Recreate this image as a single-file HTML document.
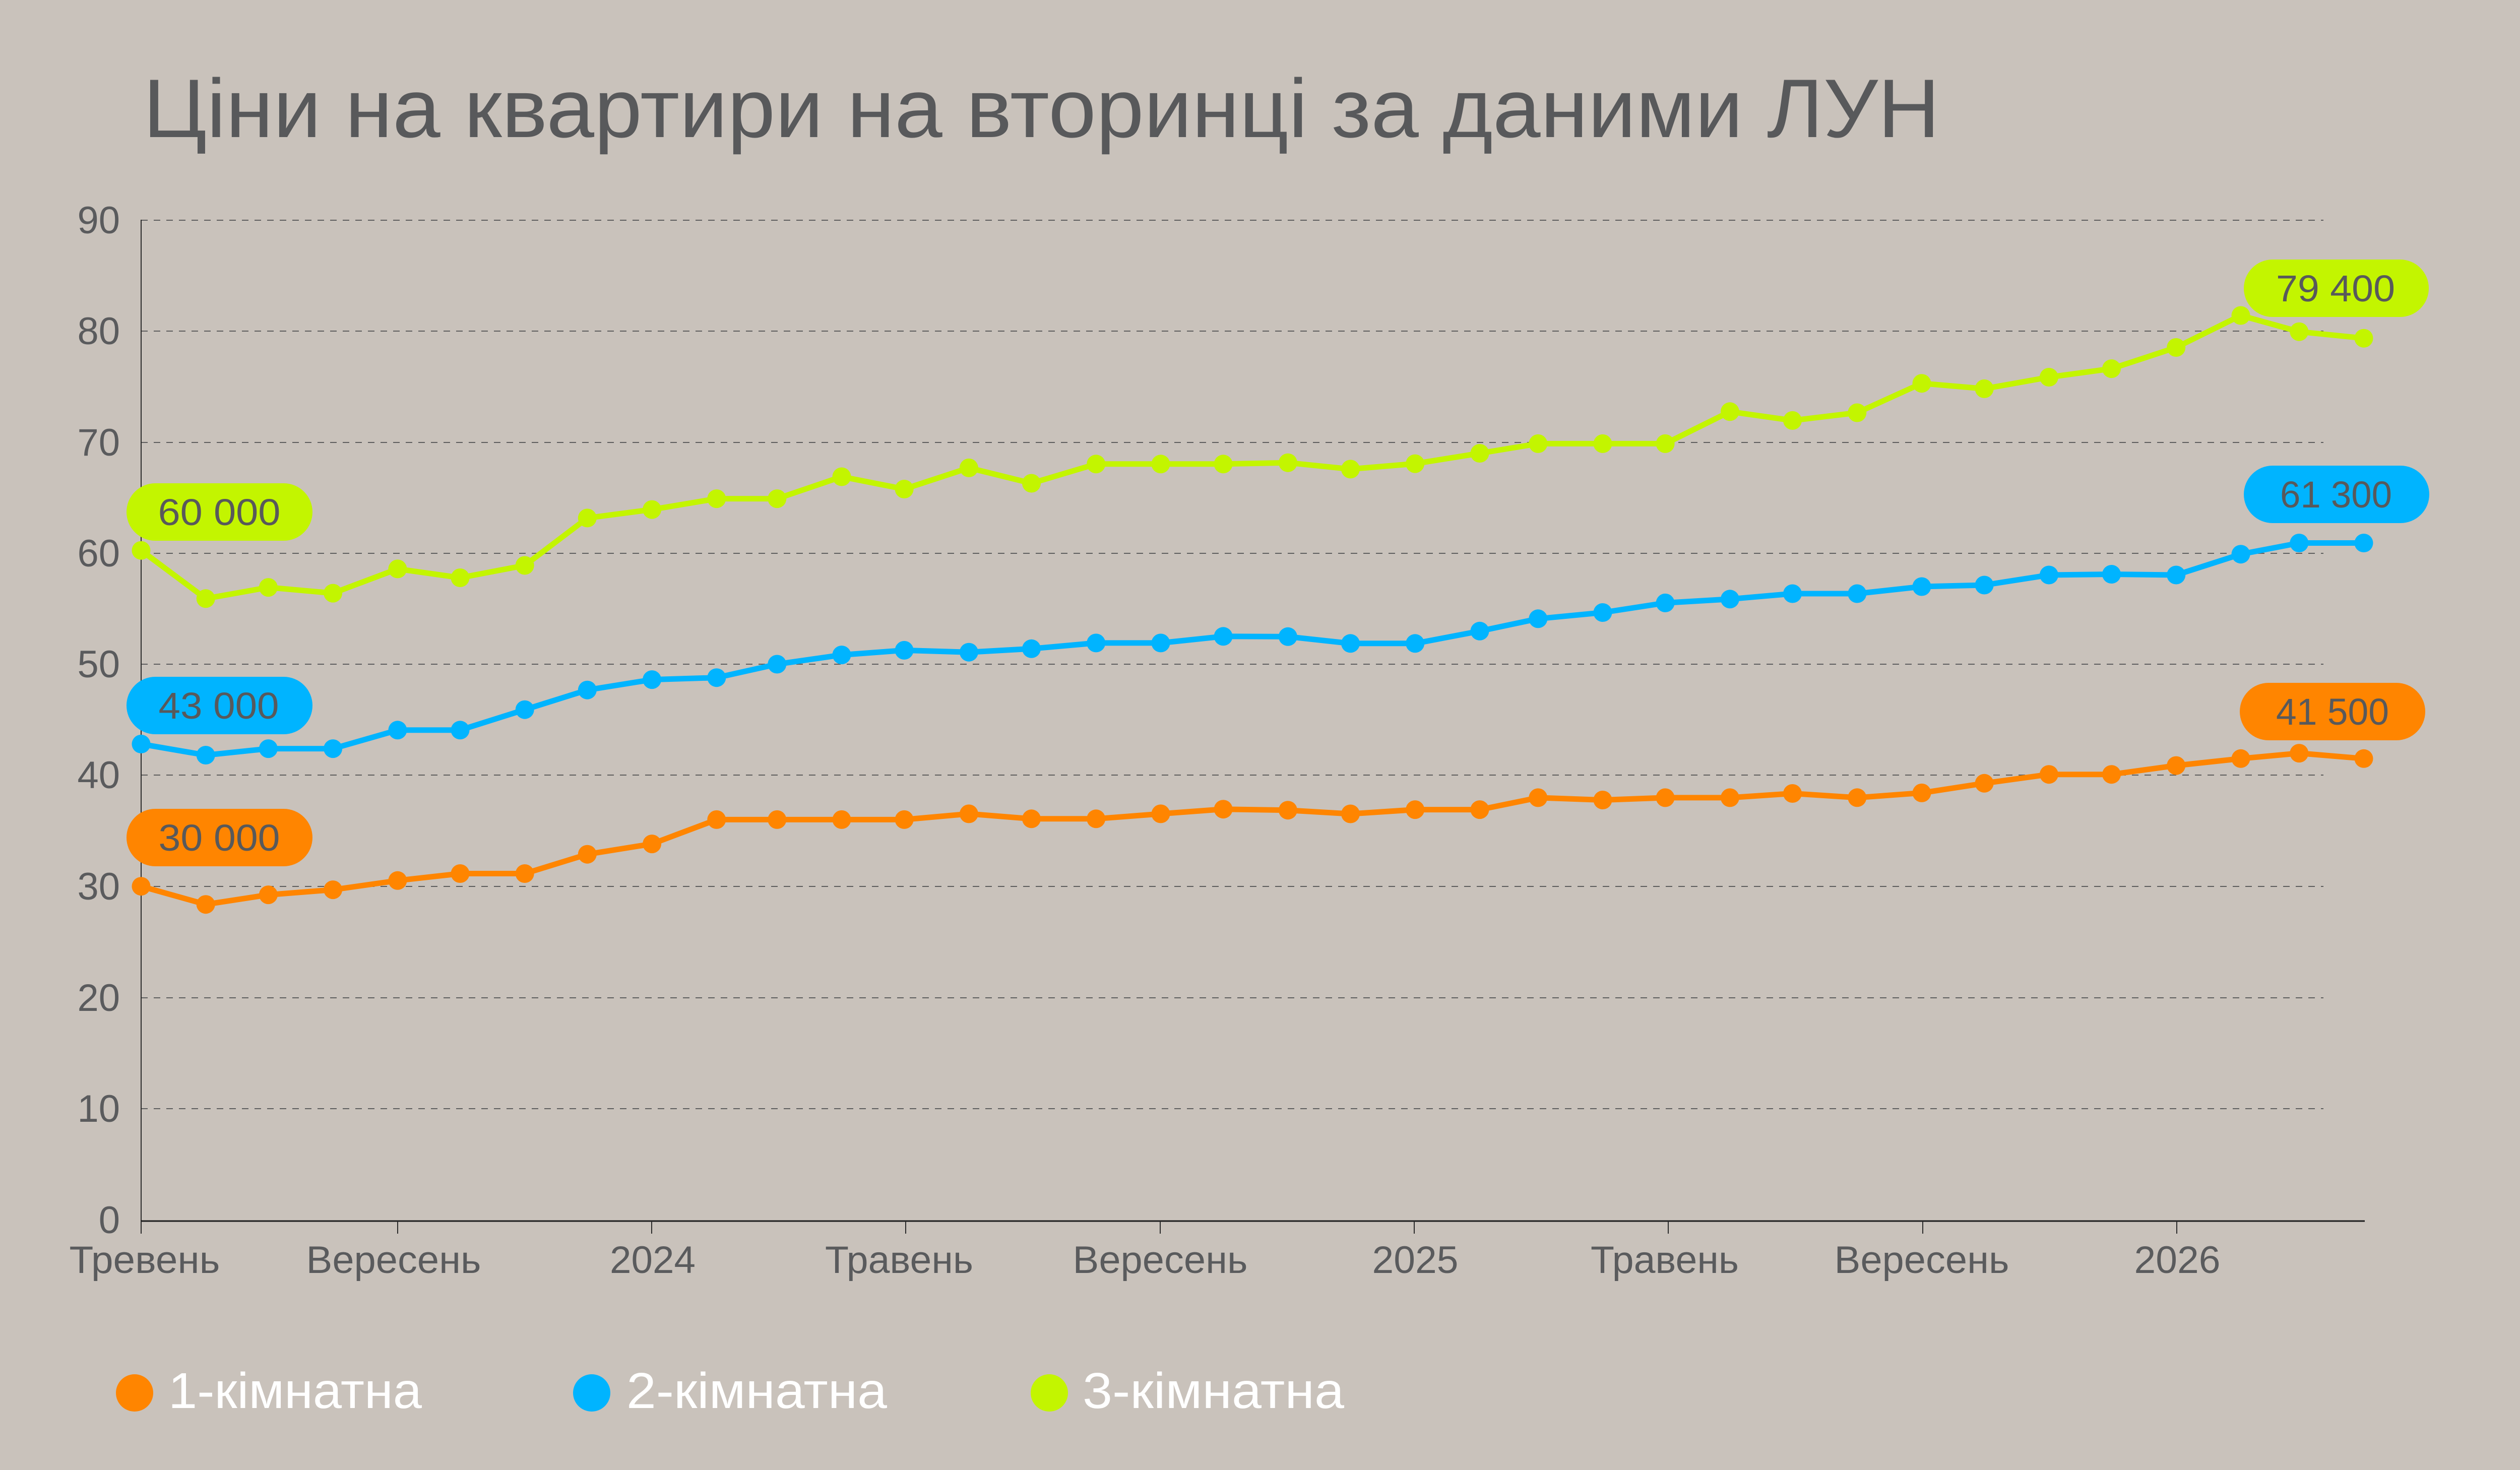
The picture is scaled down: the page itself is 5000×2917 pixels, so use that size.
<!DOCTYPE html>
<html>
<head>
<meta charset="utf-8">
<style>
html,body{margin:0;padding:0;background:#c9c2bb;}
svg{display:block;}
text{font-family:"Liberation Sans","Noto Sans CJK SC",sans-serif;}
</style>
</head>
<body>
<svg width="5000" height="2917" viewBox="0 0 5000 2917" xmlns="http://www.w3.org/2000/svg">
<rect x="0" y="0" width="5000" height="2917" fill="#c9c2bb"/>

<!-- Title -->
<text x="284" y="272" font-size="165" fill="#58595b" textLength="3565" lengthAdjust="spacingAndGlyphs">Ціни на квартири на вторинці за даними ЛУН</text>

<!-- Gridlines -->
<g stroke="#5e5e5e" stroke-width="2" stroke-dasharray="13 12" fill="none">
<line x1="280" y1="437" x2="4610" y2="437"/>
<line x1="280" y1="657" x2="4610" y2="657"/>
<line x1="280" y1="878" x2="4610" y2="878"/>
<line x1="280" y1="1098" x2="4610" y2="1098"/>
<line x1="280" y1="1318" x2="4610" y2="1318"/>
<line x1="280" y1="1538" x2="4610" y2="1538"/>
<line x1="280" y1="1759" x2="4610" y2="1759"/>
<line x1="280" y1="1980" x2="4610" y2="1980"/>
<line x1="280" y1="2200" x2="4610" y2="2200"/>
</g>

<!-- Axes -->
<line x1="280" y1="436" x2="280" y2="2448" stroke="#2a2a2a" stroke-width="2"/>
<line x1="279" y1="2423" x2="4692" y2="2423" stroke="#1c1c1c" stroke-width="3"/>
<g stroke="#2a2a2a" stroke-width="2">
<line x1="280" y1="2423" x2="280" y2="2448"/>
<line x1="789" y1="2423" x2="789" y2="2448"/>
<line x1="1293" y1="2423" x2="1293" y2="2448"/>
<line x1="1797" y1="2423" x2="1797" y2="2448"/>
<line x1="2302" y1="2423" x2="2302" y2="2448"/>
<line x1="2806" y1="2423" x2="2806" y2="2448"/>
<line x1="3310" y1="2423" x2="3310" y2="2448"/>
<line x1="3815" y1="2423" x2="3815" y2="2448"/>
<line x1="4319" y1="2423" x2="4319" y2="2448"/>
</g>

<!-- Y labels -->
<g font-size="76" fill="#5a5b5d" text-anchor="end">
<text x="238" y="463">90</text>
<text x="238" y="683">80</text>
<text x="238" y="904">70</text>
<text x="238" y="1124">60</text>
<text x="238" y="1344">50</text>
<text x="238" y="1564">40</text>
<text x="238" y="1785">30</text>
<text x="238" y="2006">20</text>
<text x="238" y="2226">10</text>
<text x="238" y="2447">0</text>
</g>

<!-- X labels -->
<g font-size="76" fill="#5a5b5d" text-anchor="middle">
<text x="287" y="2526" textLength="299" lengthAdjust="spacingAndGlyphs">Тревень</text>
<text x="781" y="2526" textLength="347" lengthAdjust="spacingAndGlyphs">Вересень</text>
<text x="1295" y="2526" textLength="170" lengthAdjust="spacingAndGlyphs">2024</text>
<text x="1784" y="2526" textLength="294" lengthAdjust="spacingAndGlyphs">Травень</text>
<text x="2302" y="2526" textLength="347" lengthAdjust="spacingAndGlyphs">Вересень</text>
<text x="2808" y="2526" textLength="171" lengthAdjust="spacingAndGlyphs">2025</text>
<text x="3303" y="2526" textLength="294" lengthAdjust="spacingAndGlyphs">Травень</text>
<text x="3813" y="2526" textLength="347" lengthAdjust="spacingAndGlyphs">Вересень</text>
<text x="4320" y="2526" textLength="171" lengthAdjust="spacingAndGlyphs">2026</text>
</g>

<!-- Series: 1-room (orange) -->
<g fill="#ff8500">
<polyline fill="none" stroke="#ff8500" stroke-width="11" stroke-linejoin="round" points="280,1758.7 408.2,1794.7 532.4,1775.6 660.6,1765.6 788.9,1747.3 913,1733.5 1041.2,1733.5 1165.3,1695.2 1293.6,1674.6 1421.8,1626.4 1541.8,1626.4 1670,1626.4 1794.1,1626.4 1922.4,1614.9 2046.5,1624.8 2174.7,1624.8 2303,1614.9 2427.1,1605.7 2555.4,1607.7 2679.5,1615 2807.7,1606.6 2936,1606.6 3051.8,1582.9 3180,1587.5 3304.1,1582.9 3432.4,1582.9 3556.5,1574.5 3684.8,1582.8 3813,1573.4 3937.1,1554.3 4065.4,1536.7 4189.5,1536.7 4317.7,1519.1 4446,1505.3 4561.8,1494.6 4690,1505.3"/>
<circle cx="280" cy="1758.7" r="18.5"/><circle cx="408.2" cy="1794.7" r="18.5"/><circle cx="532.4" cy="1775.6" r="18.5"/><circle cx="660.6" cy="1765.6" r="18.5"/><circle cx="788.9" cy="1747.3" r="18.5"/><circle cx="913" cy="1733.5" r="18.5"/><circle cx="1041.2" cy="1733.5" r="18.5"/><circle cx="1165.3" cy="1695.2" r="18.5"/><circle cx="1293.6" cy="1674.6" r="18.5"/><circle cx="1421.8" cy="1626.4" r="18.5"/><circle cx="1541.8" cy="1626.4" r="18.5"/><circle cx="1670" cy="1626.4" r="18.5"/><circle cx="1794.1" cy="1626.4" r="18.5"/><circle cx="1922.4" cy="1614.9" r="18.5"/><circle cx="2046.5" cy="1624.8" r="18.5"/><circle cx="2174.7" cy="1624.8" r="18.5"/><circle cx="2303" cy="1614.9" r="18.5"/><circle cx="2427.1" cy="1605.7" r="18.5"/><circle cx="2555.4" cy="1607.7" r="18.5"/><circle cx="2679.5" cy="1615" r="18.5"/><circle cx="2807.7" cy="1606.6" r="18.5"/><circle cx="2936" cy="1606.6" r="18.5"/><circle cx="3051.8" cy="1582.9" r="18.5"/><circle cx="3180" cy="1587.5" r="18.5"/><circle cx="3304.1" cy="1582.9" r="18.5"/><circle cx="3432.4" cy="1582.9" r="18.5"/><circle cx="3556.5" cy="1574.5" r="18.5"/><circle cx="3684.8" cy="1582.8" r="18.5"/><circle cx="3813" cy="1573.4" r="18.5"/><circle cx="3937.1" cy="1554.3" r="18.5"/><circle cx="4065.4" cy="1536.7" r="18.5"/><circle cx="4189.5" cy="1536.7" r="18.5"/><circle cx="4317.7" cy="1519.1" r="18.5"/><circle cx="4446" cy="1505.3" r="18.5"/><circle cx="4561.8" cy="1494.6" r="18.5"/><circle cx="4690" cy="1505.3" r="18.5"/>
</g>

<!-- Series: 2-room (blue) -->
<g fill="#00b4ff">
<polyline fill="none" stroke="#00b4ff" stroke-width="11" stroke-linejoin="round" points="280,1476.4 408.2,1498.5 532.4,1485.6 660.6,1485.6 788.9,1448.8 913,1448.8 1041.2,1408.2 1165.3,1369.2 1293.6,1348.6 1421.8,1344.7 1541.8,1318 1670,1299.6 1794.1,1290.4 1922.4,1294.2 2046.5,1287.3 2174.7,1275.9 2303,1275.9 2427.1,1262.8 2555.4,1263.3 2679.5,1276.8 2807.7,1276.8 2936,1252.3 3051.8,1227.8 3180,1215.5 3304.1,1196.4 3432.4,1188.8 3556.5,1178 3684.8,1178 3813,1164 3937.1,1161 4065.4,1141 4189.5,1139.5 4317.7,1141 4446,1099.7 4561.8,1077.5 4690,1077.5"/>
<circle cx="280" cy="1476.4" r="18.5"/><circle cx="408.2" cy="1498.5" r="18.5"/><circle cx="532.4" cy="1485.6" r="18.5"/><circle cx="660.6" cy="1485.6" r="18.5"/><circle cx="788.9" cy="1448.8" r="18.5"/><circle cx="913" cy="1448.8" r="18.5"/><circle cx="1041.2" cy="1408.2" r="18.5"/><circle cx="1165.3" cy="1369.2" r="18.5"/><circle cx="1293.6" cy="1348.6" r="18.5"/><circle cx="1421.8" cy="1344.7" r="18.5"/><circle cx="1541.8" cy="1318" r="18.5"/><circle cx="1670" cy="1299.6" r="18.5"/><circle cx="1794.1" cy="1290.4" r="18.5"/><circle cx="1922.4" cy="1294.2" r="18.5"/><circle cx="2046.5" cy="1287.3" r="18.5"/><circle cx="2174.7" cy="1275.9" r="18.5"/><circle cx="2303" cy="1275.9" r="18.5"/><circle cx="2427.1" cy="1262.8" r="18.5"/><circle cx="2555.4" cy="1263.3" r="18.5"/><circle cx="2679.5" cy="1276.8" r="18.5"/><circle cx="2807.7" cy="1276.8" r="18.5"/><circle cx="2936" cy="1252.3" r="18.5"/><circle cx="3051.8" cy="1227.8" r="18.5"/><circle cx="3180" cy="1215.5" r="18.5"/><circle cx="3304.1" cy="1196.4" r="18.5"/><circle cx="3432.4" cy="1188.8" r="18.5"/><circle cx="3556.5" cy="1178" r="18.5"/><circle cx="3684.8" cy="1178" r="18.5"/><circle cx="3813" cy="1164" r="18.5"/><circle cx="3937.1" cy="1161" r="18.5"/><circle cx="4065.4" cy="1141" r="18.5"/><circle cx="4189.5" cy="1139.5" r="18.5"/><circle cx="4317.7" cy="1141" r="18.5"/><circle cx="4446" cy="1099.7" r="18.5"/><circle cx="4561.8" cy="1077.5" r="18.5"/><circle cx="4690" cy="1077.5" r="18.5"/>
</g>

<!-- Series: 3-room (green) -->
<g fill="#c3f500">
<polyline fill="none" stroke="#c3f500" stroke-width="11" stroke-linejoin="round" points="280,1092.2 408.2,1187.8 532.4,1165.6 660.6,1177.1 788.9,1128.9 913,1146.5 1041.2,1122 1165.3,1027.9 1293.6,1011.1 1421.8,989.6 1541.8,989.6 1670,946 1794.1,970.5 1922.4,928.4 2046.5,959 2174.7,920.8 2303,920.8 2427.1,920.8 2555.4,918.2 2679.5,930.9 2807.7,920.1 2936,899.5 3051.8,880.4 3180,880.4 3304.1,880.4 3432.4,816.8 3556.5,834.4 3684.8,819 3813,760.7 3937.1,771.4 4065.4,748.5 4189.5,731.6 4317.7,689.5 4446,626 4561.8,658.2 4690,671.2"/>
<circle cx="280" cy="1092.2" r="18.5"/><circle cx="408.2" cy="1187.8" r="18.5"/><circle cx="532.4" cy="1165.6" r="18.5"/><circle cx="660.6" cy="1177.1" r="18.5"/><circle cx="788.9" cy="1128.9" r="18.5"/><circle cx="913" cy="1146.5" r="18.5"/><circle cx="1041.2" cy="1122" r="18.5"/><circle cx="1165.3" cy="1027.9" r="18.5"/><circle cx="1293.6" cy="1011.1" r="18.5"/><circle cx="1421.8" cy="989.6" r="18.5"/><circle cx="1541.8" cy="989.6" r="18.5"/><circle cx="1670" cy="946" r="18.5"/><circle cx="1794.1" cy="970.5" r="18.5"/><circle cx="1922.4" cy="928.4" r="18.5"/><circle cx="2046.5" cy="959" r="18.5"/><circle cx="2174.7" cy="920.8" r="18.5"/><circle cx="2303" cy="920.8" r="18.5"/><circle cx="2427.1" cy="920.8" r="18.5"/><circle cx="2555.4" cy="918.2" r="18.5"/><circle cx="2679.5" cy="930.9" r="18.5"/><circle cx="2807.7" cy="920.1" r="18.5"/><circle cx="2936" cy="899.5" r="18.5"/><circle cx="3051.8" cy="880.4" r="18.5"/><circle cx="3180" cy="880.4" r="18.5"/><circle cx="3304.1" cy="880.4" r="18.5"/><circle cx="3432.4" cy="816.8" r="18.5"/><circle cx="3556.5" cy="834.4" r="18.5"/><circle cx="3684.8" cy="819" r="18.5"/><circle cx="3813" cy="760.7" r="18.5"/><circle cx="3937.1" cy="771.4" r="18.5"/><circle cx="4065.4" cy="748.5" r="18.5"/><circle cx="4189.5" cy="731.6" r="18.5"/><circle cx="4317.7" cy="689.5" r="18.5"/><circle cx="4446" cy="626" r="18.5"/><circle cx="4561.8" cy="658.2" r="18.5"/><circle cx="4690" cy="671.2" r="18.5"/>
</g>

<!-- Left value bubbles -->
<rect x="251" y="959" width="369" height="114" rx="57" ry="57" fill="#c3f500"/>
<rect x="251" y="1343" width="369" height="114" rx="57" ry="57" fill="#00b4ff"/>
<rect x="251" y="1605" width="369" height="114" rx="57" ry="57" fill="#ff8500"/>
<!-- Right value bubbles -->
<rect x="4452" y="515" width="367" height="114" rx="57" ry="57" fill="#c3f500"/>
<rect x="4452" y="924" width="368" height="114" rx="57" ry="57" fill="#00b4ff"/>
<rect x="4444" y="1355" width="368" height="114" rx="57" ry="57" fill="#ff8500"/>

<g font-size="74" fill="#58595b" text-anchor="middle">
<text x="435" y="1042" textLength="243" lengthAdjust="spacingAndGlyphs">60 000</text>
<text x="434" y="1426" textLength="239" lengthAdjust="spacingAndGlyphs">43 000</text>
<text x="435" y="1688" textLength="241" lengthAdjust="spacingAndGlyphs">30 000</text>
<text x="4634" y="598" textLength="236" lengthAdjust="spacingAndGlyphs">79 400</text>
<text x="4635" y="1007" textLength="222" lengthAdjust="spacingAndGlyphs">61 300</text>
<text x="4628" y="1438" textLength="224" lengthAdjust="spacingAndGlyphs">41 500</text>
</g>

<!-- Legend -->
<circle cx="267" cy="2764" r="37" fill="#ff8500"/>
<circle cx="1174" cy="2764" r="37" fill="#00b4ff"/>
<circle cx="2082" cy="2764" r="37" fill="#c3f500"/>
<g font-size="100" fill="#ffffff">
<text x="334" y="2794" textLength="503" lengthAdjust="spacingAndGlyphs">1-кімнатна</text>
<text x="1243" y="2794" textLength="517" lengthAdjust="spacingAndGlyphs">2-кімнатна</text>
<text x="2148" y="2794" textLength="519" lengthAdjust="spacingAndGlyphs">3-кімнатна</text>
</g>
</svg>
</body>
</html>
